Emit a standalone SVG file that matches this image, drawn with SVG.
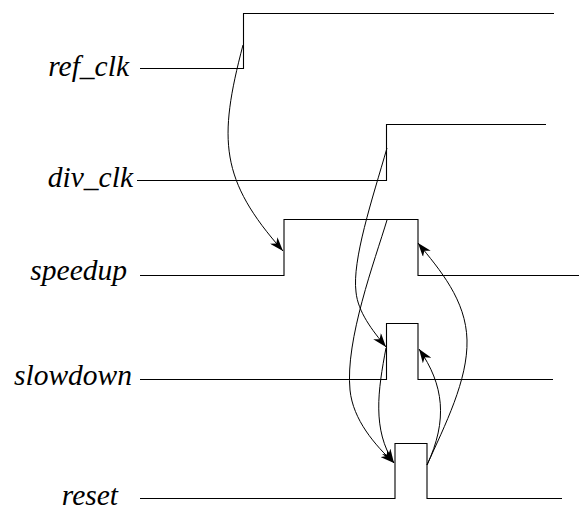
<svg xmlns="http://www.w3.org/2000/svg" width="579" height="510" viewBox="0 0 579 510">
<style>
.wave{fill:none;stroke:#000;stroke-width:1.1}
.lbl{font-family:"Liberation Serif","Times New Roman",serif;font-style:italic;font-size:29.5px;fill:#000;text-anchor:end}
.conn{fill:none;stroke:#000;stroke-width:1}
</style>
<defs>
<marker id="ah" markerUnits="userSpaceOnUse" markerWidth="15" markerHeight="10" refX="14" refY="5" orient="auto" viewBox="0 0 15 10">
<path d="M0,0 L14,5 L0,10 L4,5 z" fill="#000"/>
</marker>
</defs>
<rect width="579" height="510" fill="#fff"/>
<g id="ref_clk">
<text class="lbl" x="129" y="76">ref_clk</text>
<path class="wave" d="M140,68.5 H243.5 V13.5 H554"/>
</g>
<g id="div_clk">
<text class="lbl" x="133" y="187">div_clk</text>
<path class="wave" d="M137,180.5 H386.5 V124.5 H546"/>
</g>
<g id="speedup">
<text class="lbl" x="127" y="280">speedup</text>
<path class="wave" d="M140,275.5 H284 V219.5 H418 V275.5 H579"/>
</g>
<g id="slowdown">
<text class="lbl" x="132" y="385">slowdown</text>
<path class="wave" d="M140,379.5 H386.5 V323.5 H418 V379.5 H553"/>
</g>
<g id="reset">
<text class="lbl" x="118" y="505">reset</text>
<path class="wave" d="M140,498.5 H395 V443.5 H427 V498.5 H562"/>
</g>
<g id="connectors">
<path class="conn" marker-end="url(#ah)" d="M243,45 C218,140 220,180 283,251"/>
<path class="conn" marker-end="url(#ah)" d="M387,148 C372,200 352,260 356,292 C358,312 372,330 386,347"/>
<path class="conn" marker-end="url(#ah)" d="M387,220 C375,260 345,340 350,390 C353,420 375,445 394,463"/>
<path class="conn" marker-end="url(#ah)" d="M386,348 C378,390 372,430 394,463"/>
<path class="conn" marker-end="url(#ah)" d="M427,465 C448,420 444,385 419,349"/>
<path class="conn" marker-end="url(#ah)" d="M427,465 C445,425 468,380 467,340 C466,300 440,270 418,243"/>
</g>
</svg>
